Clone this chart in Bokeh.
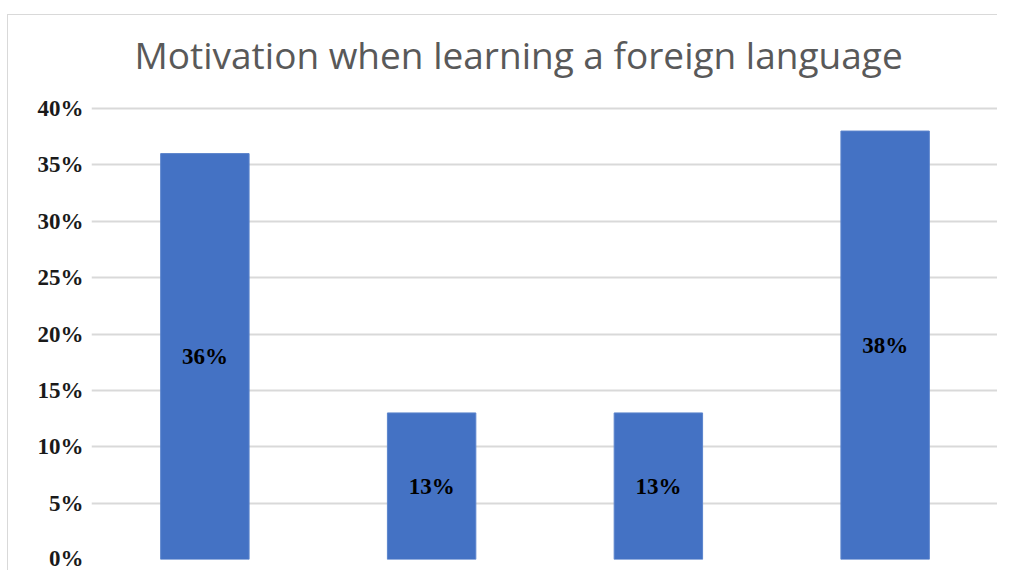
from bokeh.plotting import figure
from bokeh.layouts import row, column
from bokeh.models import (ColumnDataSource, FixedTicker, NumeralTickFormatter,
                          Range1d, Label, Spacer)
from bokeh.core.properties import value
from bokeh.embed import file_html
from bokeh.resources import INLINE

title_text = "Motivation when learning a foreign language"
categories = ["Motivation 1", "Motivation 2", "Motivation 3", "Motivation 4"]
shares = [0.36, 0.13, 0.13, 0.38]
share_labels = ["36%", "13%", "13%", "38%"]
y_ticks = [0.0, 0.05, 0.10, 0.15, 0.20, 0.25, 0.30, 0.35, 0.40]
y_max = 0.40

# layout (pixels): the frame also holds the title area above the 40% line
FIG_W, FIG_H = 990, 556
PAD_BOTTOM = 12
AXIS_PX = 451            # height of the 0%..40% value area
frame_px = FIG_H - PAD_BOTTOM
y_top = y_max * frame_px / AXIS_PX

src = ColumnDataSource(dict(
    cat=categories,
    val=shares,
    mid=[v / 2 for v in shares],
    lab=share_labels,
))

p = figure(
    x_range=categories,
    y_range=Range1d(0, y_top),
    width=FIG_W, height=FIG_H,
    output_backend="svg", toolbar_location=None,
    min_border_left=83, min_border_right=0,
    min_border_top=0, min_border_bottom=PAD_BOTTOM,
)
p.styles = {"border-top": "1px solid #d9d9d9", "border-left": "1px solid #d9d9d9"}

# chart title, placed relative to the 40% line at the frame's left edge
p.add_layout(Label(x=0, y=y_max, x_offset=43, y_offset=54, text=title_text,
                   text_font="Open Sans", text_font_size="37px",
                   text_color="#595959", text_align="left",
                   text_baseline="alphabetic"))

p.vbar(x="cat", top="val", width=0.39, source=src,
       fill_color="#4472C4", line_color="#5b84cc", line_width=1)

p.text(x="cat", y="mid", text="lab", source=src,
       text_font=value("Liberation Serif"), text_font_style="bold",
       text_font_size="23px", text_color="#000000",
       text_align="center", text_baseline="middle")

p.xaxis.visible = False
p.xgrid.visible = False
p.ygrid.grid_line_color = "#d9d9d9"
p.ygrid.grid_line_width = 2
p.yaxis.ticker = FixedTicker(ticks=y_ticks)
p.yaxis.formatter = NumeralTickFormatter(format="0%")
p.yaxis.axis_line_color = None
p.yaxis.major_tick_line_color = None
p.yaxis.minor_tick_line_color = None
p.yaxis.major_label_standoff = 2
p.yaxis.major_label_text_font = "Liberation Serif"
p.yaxis.major_label_text_font_style = "bold"
p.yaxis.major_label_text_font_size = "23px"
p.yaxis.major_label_text_color = "#1a1a1a"
p.outline_line_color = None
p.background_fill_color = "white"
p.border_fill_color = "white"

layout = row(Spacer(width=7), column(Spacer(height=14), p))

open("out.html", "w").write(file_html(layout, INLINE))
